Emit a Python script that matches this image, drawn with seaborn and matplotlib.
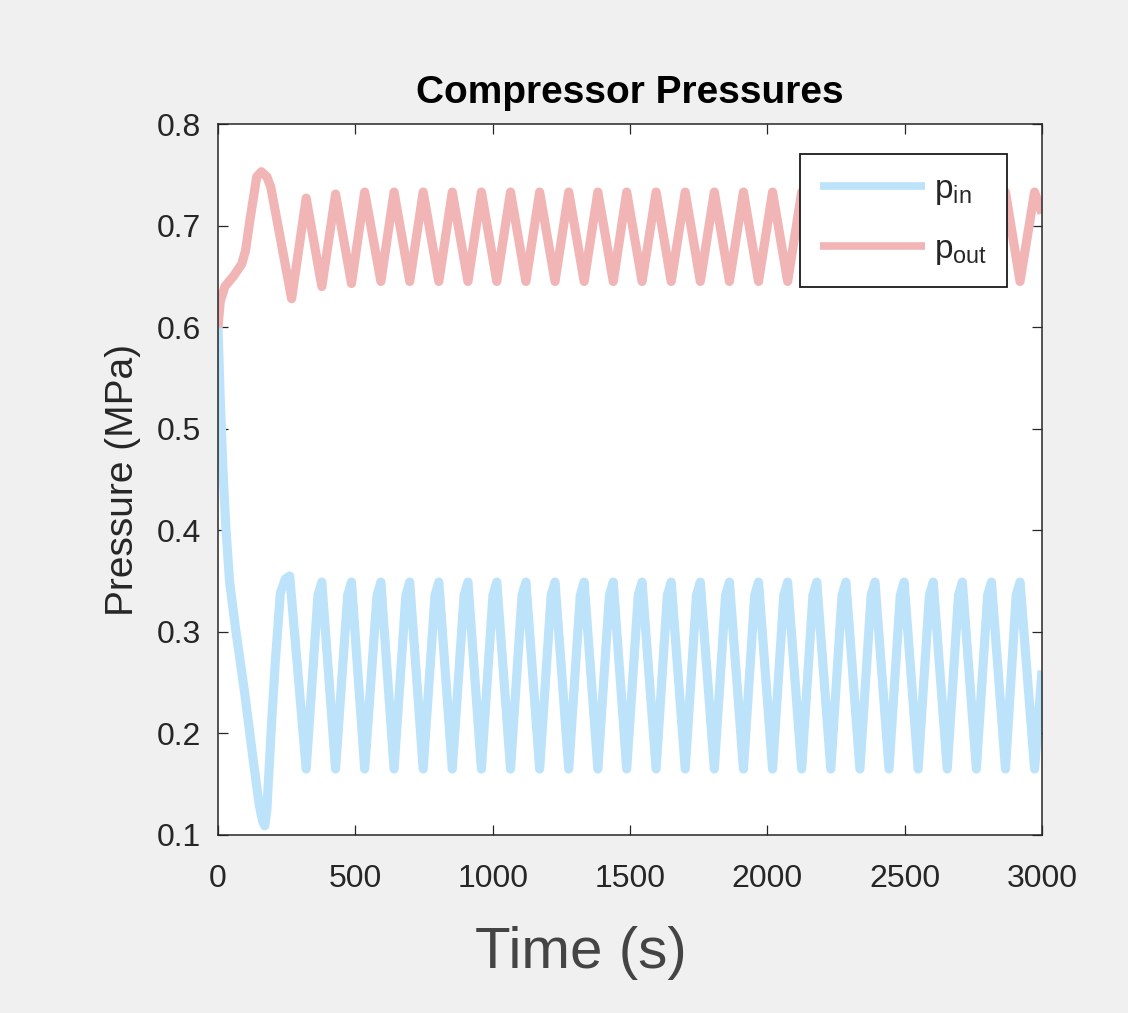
import matplotlib
matplotlib.use("Agg")
import matplotlib.pyplot as plt
import seaborn as sns
import pandas as pd

# ---------------- data ----------------
# p_in : start-up transient, then a cycle of peak / trough vertices
in_start_t = [0, 8, 18, 28, 42, 64, 97, 130, 150, 162, 170, 178, 195, 209, 227, 245]
in_start_p = [0.600, 0.530, 0.460, 0.405, 0.350, 0.303, 0.240, 0.170, 0.130, 0.114, 0.109,
              0.125, 0.210, 0.272, 0.338, 0.352]
in_peak_t = [261, 378, 486, 593, 698, 804, 910, 1015, 1121, 1227, 1333, 1439, 1544,
             1650, 1756, 1862, 1968, 2074, 2180, 2286, 2392, 2498, 2604, 2710, 2816, 2920]
in_peak_p = [0.355, 0.349, 0.349, 0.349, 0.349, 0.349, 0.349, 0.349, 0.349, 0.349, 0.349,
             0.349, 0.349, 0.349, 0.349, 0.349, 0.349, 0.349, 0.349, 0.349, 0.349, 0.349,
             0.349, 0.349, 0.349, 0.349]
in_trough_t = [321, 428, 534, 641, 747, 853, 959, 1065, 1171, 1277, 1383, 1488, 1595,
               1701, 1807, 1913, 2019, 2125, 2231, 2337, 2443, 2549, 2655, 2761, 2867, 2973]
in_trough_p = [0.165, 0.165, 0.165, 0.165, 0.165, 0.165, 0.165, 0.165, 0.165, 0.165, 0.165,
               0.165, 0.165, 0.165, 0.165, 0.165, 0.165, 0.165, 0.165, 0.165, 0.165, 0.165,
               0.165, 0.165, 0.165, 0.165]
in_shoulder_dt = 14      # rounded top: point read just before each peak
in_shoulder_p = 0.336
in_end_t, in_end_p = 3000, 0.262

# p_out : start-up transient, then trough / peak vertices
out_start_t = [0, 8, 25, 56, 86, 100, 116, 141, 158, 178, 192, 226]
out_start_p = [0.600, 0.625, 0.640, 0.650, 0.662, 0.675, 0.705, 0.748, 0.753, 0.748, 0.738, 0.689]
out_trough_t = [268, 378, 486, 593, 698, 804, 910, 1015, 1121, 1227, 1333, 1439, 1544,
                1650, 1756, 1862, 1968, 2074, 2180, 2286, 2392, 2498, 2604, 2710, 2816, 2920]
out_trough_p = [0.628, 0.640, 0.643, 0.645, 0.645, 0.645, 0.645, 0.645, 0.645, 0.645, 0.645,
                0.645, 0.645, 0.645, 0.645, 0.645, 0.645, 0.645, 0.645, 0.645, 0.645, 0.645,
                0.645, 0.645, 0.645, 0.645]
out_peak_t = [321, 428, 534, 641, 747, 853, 959, 1065, 1171, 1277, 1383, 1488, 1595,
              1701, 1807, 1913, 2019, 2125, 2231, 2337, 2443, 2549, 2655, 2761, 2867, 2973]
out_peak_p = [0.727, 0.731, 0.733, 0.733, 0.733, 0.733, 0.733, 0.733, 0.733, 0.733, 0.733,
              0.733, 0.733, 0.733, 0.733, 0.733, 0.733, 0.733, 0.733, 0.733, 0.733, 0.733,
              0.733, 0.733, 0.733, 0.733]
out_end_t, out_end_p = 3000, 0.712

series_names = ["p_in", "p_out"]
legend_labels = [r"$\mathregular{p_{in}}$", r"$\mathregular{p_{out}}$"]
x_ticks = [0, 500, 1000, 1500, 2000, 2500, 3000]
y_ticks = [0.1, 0.2, 0.3, 0.4, 0.5, 0.6, 0.7, 0.8]
y_tick_labels = ["0.1", "0.2", "0.3", "0.4", "0.5", "0.6", "0.7", "0.8"]
title = "Compressor Pressures"
x_label = "Time (s)"
y_label = "Pressure (MPa)"

# ---------------- assemble long table ----------------
t_in, p_in = list(in_start_t), list(in_start_p)
for k in range(len(in_peak_t)):
    if k > 0:
        t_in.append(in_peak_t[k] - in_shoulder_dt)
        p_in.append(in_shoulder_p)
    t_in.append(in_peak_t[k]); p_in.append(in_peak_p[k])
    t_in.append(in_trough_t[k]); p_in.append(in_trough_p[k])
t_in.append(in_end_t); p_in.append(in_end_p)

t_out, p_out = list(out_start_t), list(out_start_p)
for k in range(len(out_trough_t)):
    t_out.append(out_trough_t[k]); p_out.append(out_trough_p[k])
    t_out.append(out_peak_t[k]); p_out.append(out_peak_p[k])
t_out.append(out_end_t); p_out.append(out_end_p)

df = pd.concat([
    pd.DataFrame({"Time": t_in, "Pressure": p_in, "Series": series_names[0]}),
    pd.DataFrame({"Time": t_out, "Pressure": p_out, "Series": series_names[1]}),
], ignore_index=True)

# ---------------- style ----------------
sns.set_theme(style="white")
plt.rcParams["font.family"] = ["Liberation Sans", "DejaVu Sans"]
plt.rcParams["mathtext.fontset"] = "custom"
plt.rcParams["mathtext.rm"] = "Liberation Sans"

text_col = "#262626"
colors = {"p_in": "#bde3fa", "p_out": "#f2b5b5"}

fig = plt.figure(figsize=(11.28, 10.13), dpi=100, facecolor="#f0f0f0")
ax = fig.add_axes([218 / 1128, 1 - 835 / 1013, 824 / 1128, 711 / 1013])
ax.set_facecolor("white")

sns.lineplot(data=df, x="Time", y="Pressure", hue="Series", palette=colors,
             estimator=None, sort=False, linewidth=6.6, ax=ax, legend=False)
for ln in ax.get_lines():
    ln.set_solid_joinstyle("round")
    ln.set_solid_capstyle("butt")

ax.set_xlim(0, 3000)
ax.set_ylim(0.1, 0.8)
ax.set_xticks(x_ticks)
ax.set_xticklabels([str(v) for v in x_ticks])
ax.set_yticks(y_ticks)
ax.set_yticklabels(y_tick_labels)
ax.tick_params(axis="both", which="both", direction="in", length=7.5, width=0.9,
               color=text_col, labelcolor=text_col, labelsize=23,
               top=True, right=True, bottom=True, left=True)
ax.tick_params(axis="x", pad=21)
ax.tick_params(axis="y", pad=12)
for s in ax.spines.values():
    s.set_visible(True)
    s.set_color(text_col)
    s.set_linewidth(1.1)

ax.set_title(title, fontsize=28, fontweight="bold", color="black", pad=15)
ax.set_xlabel(x_label, fontsize=42, color="#444444")
ax.xaxis.set_label_coords((581 - 218) / 824, (835 - 953) / 711)
ax.xaxis.label.set_verticalalignment("center")
ax.set_ylabel(y_label, fontsize=28, color=text_col)
ax.yaxis.set_label_coords((123 - 218) / 824, 0.5)
ax.yaxis.label.set_verticalalignment("center")

handles = ax.get_lines()[:2]
leg = ax.legend(handles, legend_labels, loc="upper right",
                bbox_to_anchor=(0.9575, 0.9578), borderaxespad=0, frameon=True,
                fancybox=False, framealpha=1, edgecolor="#1a1a1a", facecolor="white",
                fontsize=24, handlelength=3.15, labelspacing=0.8, handletextpad=0.25,
                borderpad=0.6)
leg.get_frame().set_linewidth(1.3)
for ln in leg.get_lines():
    ln.set_linewidth(5.5)
for t in leg.get_texts():
    t.set_color(text_col)

fig.savefig("out.png", dpi=100, facecolor=fig.get_facecolor())
